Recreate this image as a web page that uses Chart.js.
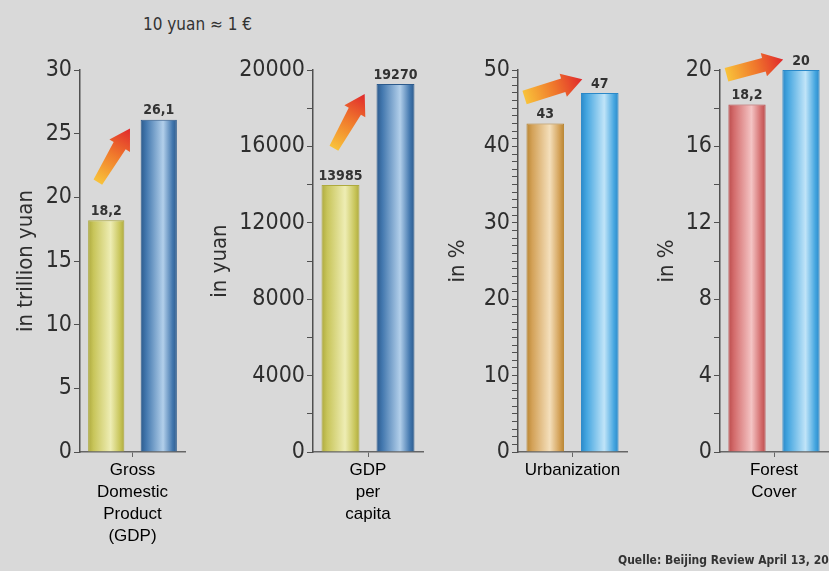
<!DOCTYPE html>
<html>
<head>
<meta charset="utf-8">
<script src="https://cdn.jsdelivr.net/npm/chart.js@4/dist/chart.umd.min.js"></script>
<style>
  html, body { margin: 0; padding: 0; background: #d9d9d9; }
  #wrap { position: relative; width: 829px; height: 571px; overflow: hidden; background: #d9d9d9; }
  #wrap canvas { position: absolute; top: 0; }
  .note { position: absolute; font-family: 'Liberation Sans Narrow', 'DejaVu Sans Condensed', sans-serif; color: #333; white-space: nowrap; }
</style>
</head>
<body>
<div id="wrap">
  <div class="note" style="left:143px; top:14px; font-size:17px;">10 yuan ≈ 1 €</div>
  <canvas id="c0"></canvas>
  <canvas id="c1"></canvas>
  <canvas id="c2"></canvas>
  <canvas id="c3"></canvas>
  <div class="note" style="left:618px; top:553px; font-size:12px; font-weight:bold;">Quelle: Beijing Review April 13, 20</div>
</div>
<script>
// data
const categories = [['Gross', 'Domestic', 'Product', '(GDP)'], ['GDP', 'per', 'capita'], ['Urbanization'], ['Forest', 'Cover']];
const valuesBefore = [18.2, 13985, 43, 18.2];
const valuesAfter = [26.1, 19270, 47, 20];
const axisMax = [30, 20000, 50, 20];
const tickStep = [5, 2000, 1, 2];
const labelStep = [5, 4000, 10, 4];
const axisTitles = ['in trillion yuan', 'in yuan', 'in %', 'in %'];

// colours: [edge, base, highlight]
const palettes = {
  yellow:    ['#aeaa3e', '#c8c55a', '#eeedb4'],
  darkblue:  ['#2c5a8c', '#4277ae', '#b2cfea'],
  orange:    ['#b98532', '#d3a157', '#f4dfbb'],
  lightblue: ['#2a88c8', '#45a6e0', '#c0e4f8'],
  red:       ['#bb4c4c', '#d36b6b', '#f4c4c4']
};
const beforeColor = ['yellow', 'yellow', 'orange', 'red'];
const afterColor = ['darkblue', 'darkblue', 'lightblue', 'lightblue'];

// layout per panel (arrow: [x fraction of plot width, y value], tail/shaft/head half-widths)
const panels = [
  { left: 0,   width: 200, yWidth: 80,  padRight: 15, titlePad: 13, arrow: { from: [0.17, 21.2], to: [0.476, 25.4], w: [5, 7, 12] } },
  { left: 200, width: 225, yWidth: 113, padRight: 2,  titlePad: 7,  arrow: { from: [0.19, 15900], to: [0.47, 18750], w: [5, 7, 12] } },
  { left: 425, width: 210, yWidth: 93,  padRight: 8,  titlePad: 20, arrow: { from: [0.06, 46.4], to: [0.59, 48.8], w: [7, 7, 12] } },
  { left: 635, width: 194, yWidth: 85,  padRight: 1,  titlePad: 19, arrow: { from: [0.06, 19.75], to: [0.585, 20.55], w: [7, 7, 12] } }
];

const narrow = "'Liberation Sans Narrow', 'DejaVu Sans Condensed', sans-serif";
const axisGrey = '#505050';

function barFill(name) {
  const p = palettes[name];
  return function (c) {
    const el = c.element;
    if (!el || el.x == null || !el.width) return p[1];
    const g = c.chart.ctx.createLinearGradient(el.x - el.width / 2, 0, el.x + el.width / 2, 0);
    g.addColorStop(0, p[0]);
    g.addColorStop(0.15, p[1]);
    g.addColorStop(0.62, p[2]);
    g.addColorStop(0.88, p[1]);
    g.addColorStop(1, p[0]);
    return g;
  };
}

function fmt(v) {
  return String(v).replace('.', ',');
}

// value labels above the bars
const valueLabels = {
  id: 'valueLabels',
  afterDatasetsDraw(chart) {
    const ctx = chart.ctx;
    ctx.save();
    ctx.font = 'bold 14px ' + narrow;
    ctx.fillStyle = '#333';
    ctx.textAlign = 'center';
    ctx.textBaseline = 'bottom';
    chart.data.datasets.forEach((ds, d) => {
      chart.getDatasetMeta(d).data.forEach((el, i) => {
        ctx.fillText(fmt(ds.data[i]), el.x, el.y - 2);
      });
    });
    ctx.restore();
  }
};

// orange -> red growth arrow
const growthArrow = {
  id: 'growthArrow',
  afterDatasetsDraw(chart, args, opts) {
    const a = chart.chartArea, y = chart.scales.y, ctx = chart.ctx;
    const w = a.right - a.left;
    const x0 = a.left + opts.from[0] * w, y0 = y.getPixelForValue(opts.from[1]);
    const x1 = a.left + opts.to[0] * w, y1 = y.getPixelForValue(opts.to[1]);
    const dx = x1 - x0, dy = y1 - y0, len = Math.hypot(dx, dy);
    const ux = dx / len, uy = dy / len, nx = -uy, ny = ux;
    const [w0, w1, headW] = opts.w;
    const headLen = 20;
    const hx = x1 - ux * headLen, hy = y1 - uy * headLen;
    const g = ctx.createLinearGradient(x0, y0, x1, y1);
    g.addColorStop(0, '#f8c23a');
    g.addColorStop(0.5, '#f07a2c');
    g.addColorStop(1, '#e0282c');
    ctx.save();
    ctx.fillStyle = g;
    ctx.beginPath();
    ctx.moveTo(x0 + nx * w0, y0 + ny * w0);
    ctx.lineTo(hx + nx * w1, hy + ny * w1);
    ctx.lineTo(hx + nx * headW, hy + ny * headW);
    ctx.lineTo(x1, y1);
    ctx.lineTo(hx - nx * headW, hy - ny * headW);
    ctx.lineTo(hx - nx * w1, hy - ny * w1);
    ctx.lineTo(x0 - nx * w0, y0 - ny * w0);
    ctx.closePath();
    ctx.fill();
    ctx.restore();
  }
};

const charts = panels.map((p, i) => {
  const cv = document.getElementById('c' + i);
  cv.width = p.width;
  cv.height = 571;
  cv.style.left = p.left + 'px';
  cv.style.width = p.width + 'px';
  cv.style.height = '571px';
  return new Chart(cv, {
    type: 'bar',
    data: {
      labels: [categories[i]],
      datasets: [
        { data: [valuesBefore[i]], backgroundColor: barFill(beforeColor[i]), borderColor: palettes[beforeColor[i]][0], borderWidth: 1 },
        { data: [valuesAfter[i]], backgroundColor: barFill(afterColor[i]), borderColor: palettes[afterColor[i]][0], borderWidth: 1 }
      ]
    },
    options: {
      responsive: false,
      animation: false,
      devicePixelRatio: 1,
      layout: { padding: { top: 70, left: 0, right: p.padRight, bottom: 0 } },
      datasets: { bar: { categoryPercentage: 1, barPercentage: 0.69 } },
      plugins: {
        legend: { display: false },
        tooltip: { enabled: false },
        growthArrow: p.arrow
      },
      scales: {
        x: {
          afterFit: s => { s.height = 119; },
          grid: { offset: false, drawOnChartArea: false, drawTicks: true, tickLength: 5, color: '#666' },
          border: { display: true, color: '#666', width: 1.5 },
          ticks: { color: '#000', padding: 2, font: { family: "'Liberation Sans', Arial, sans-serif", size: 17, lineHeight: 1.3 } }
        },
        y: {
          min: 0,
          max: axisMax[i],
          afterFit: s => { s.width = p.yWidth; },
          grid: { drawOnChartArea: false, drawTicks: true, tickLength: 6, color: axisGrey },
          border: { display: true, color: axisGrey, width: 1.5 },
          ticks: {
            stepSize: tickStep[i],
            autoSkip: false,
            padding: 2,
            color: '#2e2e2e',
            font: { family: narrow, size: 23 },
            callback: v => (v % labelStep[i] === 0 ? v : '')
          },
          title: {
            display: true,
            text: axisTitles[i],
            color: '#2e2e2e',
            padding: { top: p.titlePad, bottom: 0 },
            font: { family: narrow, size: 22 }
          }
        }
      }
    },
    plugins: [valueLabels, growthArrow]
  });
});

// second pass so the bar gradients can use the laid-out bar positions
charts.forEach(c => c.update());
</script>
</body>
</html>
